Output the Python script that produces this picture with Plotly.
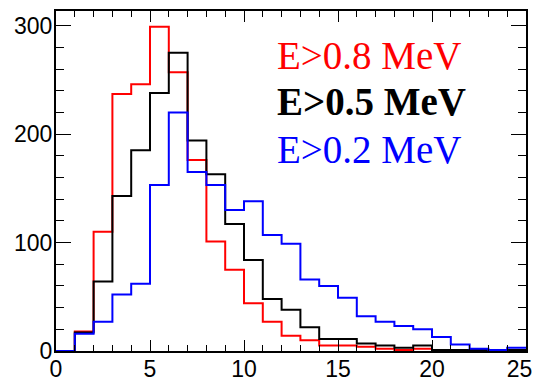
import numpy as np
import plotly.graph_objects as go

bin_edges_start = 0
bin_width = 1
# E>0.8 MeV
red_counts = [0, 18, 110, 237, 246, 299, 257, 176, 101, 75, 44, 27, 14, 10, 5, 5, 4, 2, 1, 2, 0, 0, 0, 0, 0]
# E>0.5 MeV
black_counts = [0, 17, 64, 143, 185, 238, 275, 194, 163, 117, 84, 48, 38, 22, 11, 11, 7, 5, 3, 5, 1, 1, 1, 1, 1]
# E>0.2 MeV
blue_counts = [0, 16, 27, 52, 62, 153, 220, 165, 153, 130, 138, 107, 99, 66, 60, 49, 32, 27, 23, 20, 13, 6, 2, 1, 3]

labels = ["E>0.8 MeV", "E>0.5 MeV", "E>0.2 MeV"]
x_ticks = [0, 5, 10, 15, 20, 25]
y_ticks = [0, 100, 200, 300]

fig = go.Figure()

def step_trace(counts, color):
    n = len(counts)
    edges = bin_edges_start + bin_width * np.arange(n + 1)
    ys = list(counts) + [counts[-1]]
    return go.Scatter(x=edges, y=ys, mode="lines", line=dict(shape="hv", color=color, width=2),
                      showlegend=False, hoverinfo="skip", cliponaxis=False)

fig.add_trace(step_trace(red_counts, "#ff0000"))
fig.add_trace(step_trace(black_counts, "#000000"))
fig.add_trace(step_trace(blue_counts, "#0000ff"))

tick_font = dict(family="Liberation Sans", size=23, color="black")

# last label padded with a figure space so it stays inside the page like the reference
x_ticktext = [str(v) for v in x_ticks]
x_ticktext[-1] = x_ticktext[-1] + "\u2007"

fig.update_xaxes(range=[0, 25], tickvals=x_ticks, ticktext=x_ticktext,
                 showgrid=False, zeroline=False, showline=True, linecolor="black", linewidth=2,
                 mirror="allticks", ticks="inside", ticklen=11, tickwidth=1, tickcolor="black",
                 tickfont=tick_font, automargin=False, ticklabelstandoff=-4, ticklabeloverflow="allow",
                 minor=dict(dtick=1, ticks="inside", ticklen=6, tickwidth=1, tickcolor="black", showgrid=False))
fig.update_yaxes(range=[0, 313.5], tickvals=y_ticks, ticktext=[str(v) for v in y_ticks],
                 showgrid=False, zeroline=False, showline=True, linecolor="black", linewidth=2,
                 mirror="allticks", ticks="inside", ticklen=15, tickwidth=1, tickcolor="black",
                 tickfont=tick_font, ticklabelstandoff=-3, automargin=False,
                 minor=dict(dtick=20, ticks="inside", ticklen=8, tickwidth=1, tickcolor="black", showgrid=False))

text_colors = ["#ff0000", "#000000", "#0000ff"]
text_y = [0.868, 0.735, 0.594]
for lab, col, ty in zip(labels, text_colors, text_y):
    esc = lab.replace(">", "&gt;")
    txt = f"<b>{esc}</b>" if col == "#000000" else esc
    fig.add_annotation(text=txt, xref="paper", yref="paper", x=0.466, y=ty,
                       xanchor="left", yanchor="middle", showarrow=False,
                       font=dict(family="Liberation Serif", size=39, color=col))

fig.update_layout(width=537, height=382, margin=dict(l=56, r=11, t=11, b=31),
                  paper_bgcolor="white", plot_bgcolor="white")

fig.write_html("out.html")
